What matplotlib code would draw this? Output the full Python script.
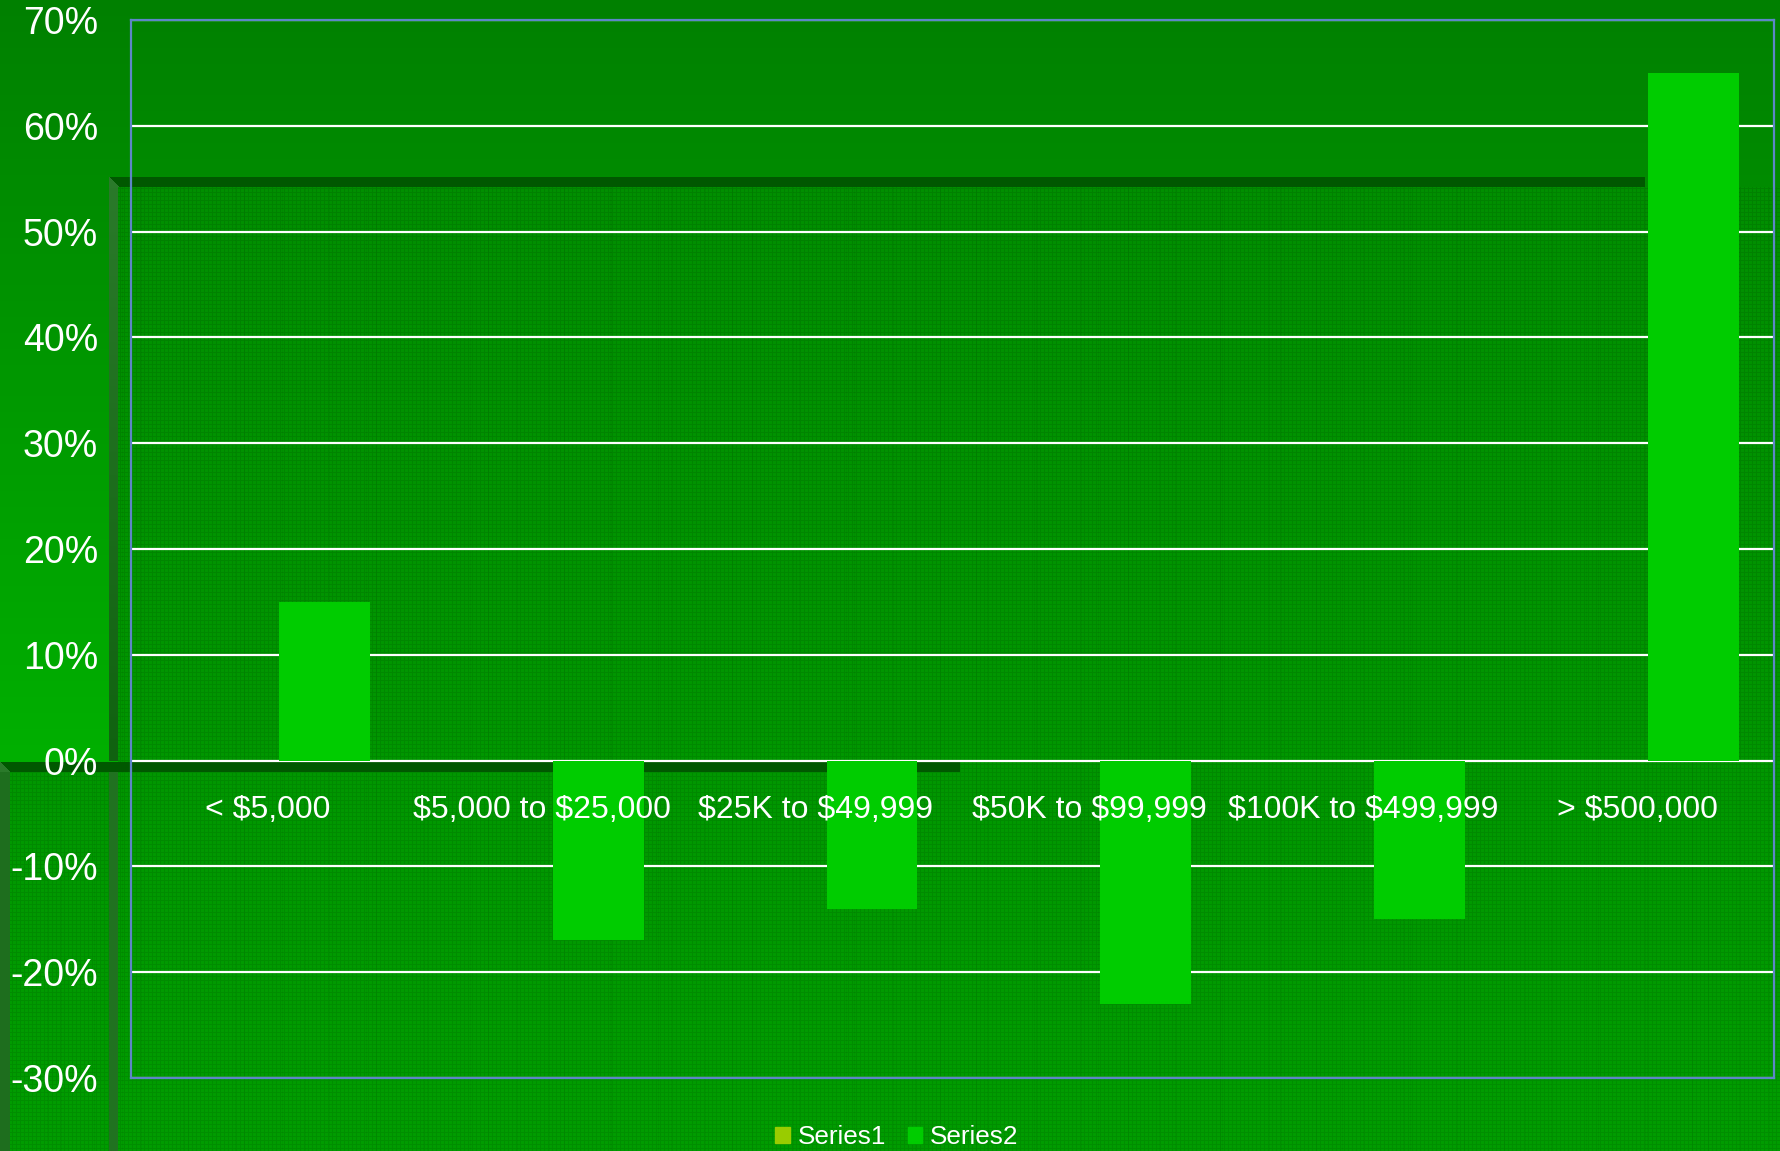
import numpy as np
import matplotlib
matplotlib.use('Agg')
import matplotlib.pyplot as plt
from matplotlib.patches import Patch

plt.rcParams['font.family'] = ['Liberation Sans', 'DejaVu Sans']
plt.rcParams['text.parse_math'] = False

# ---- data -------------------------------------------------------------
categories = ['< $5,000', '$5,000 to $25,000', '$25K to $49,999',
              '$50K to $99,999', '$100K to $499,999', '> $500,000']
series1 = [0, 0, 0, 0, 0, 0]
series2 = [15, -17, -14, -23, -15, 65]
series_names = ['Series1', 'Series2']
y_ticks = list(range(-30, 71, 10))

# ---- style ------------------------------------------------------------
C_S1 = '#99cc00'
C_S2 = '#00cc00'
C_BORDER = '#5d86c8'

W, H = 1781, 1151
DPI = 100
fig = plt.figure(figsize=(W / DPI, H / DPI), dpi=DPI)

# ---- slide background (pixel image) ----------------------------------
yy = np.arange(H)[:, None].astype(float)
xx = np.arange(W)[None, :].astype(float)
bg = np.zeros((H, W, 3), dtype=float)

# vertical gradient of the slide
g = 0x80 + 0x30 * np.clip(yy / 760.0, 0, 1.3)
bg[..., 1] = np.broadcast_to(g, (H, W))

# woven texture used on the lower panels
grid = ((xx.astype(int) % 4 == 0) | (yy.astype(int) % 4 == 0))
stripe = ((xx.astype(int) % 47 == 0) | (xx.astype(int) % 61 == 0))
tex = np.where(grid, -11.0, 3.0) - np.where(stripe, 6.0, 0.0)

panel_g = 0x8c + 0x0e * (yy - 187) / (H - 187)

# main textured panel
mA = (xx >= 118) & (yy >= 187)
valA = np.broadcast_to(panel_g + tex, (H, W))
bg[..., 1] = np.where(mA, valA, bg[..., 1])

# lower-left textured panel
mB = (xx >= 10) & (xx < 109) & (yy >= 771)
bg[..., 1] = np.where(mB, valA, bg[..., 1])


def paint(mask, rgb):
    for k in range(3):
        bg[..., k] = np.where(mask, rgb[k], bg[..., k])


# vertical edge strips
t = np.clip((yy - 187) / (761 - 187), 0, 1)
strip_upper = (xx >= 109) & (xx < 118) & (yy >= 187) & (yy < 761)
for k, (a, b) in enumerate([(0x2a, 0x10), (0x7a, 0x62), (0x2a, 0x10)]):
    bg[..., k] = np.where(strip_upper, np.broadcast_to(a + (b - a) * t, (H, W)), bg[..., k])
paint((xx >= 109) & (xx < 118) & (yy >= 771), (0x20, 0x72, 0x20))
paint((xx >= 0) & (xx < 10) & (yy >= 771), (0x1e, 0x6e, 0x1e))

# dark shelf bands with bevelled left ends
band_top = (yy >= 177) & (yy < 187) & (xx >= 109) & (xx < 1645)
paint(band_top & ((xx - 109) > (yy - 177)), (0x00, 0x58, 0x00))
paint(band_top & ((xx - 109) <= (yy - 177)), (0x2a, 0x7a, 0x2a))
band_low = (yy >= 762) & (yy < 772) & (xx >= 0) & (xx < 960)
paint(band_low & ((xx - 0) > (yy - 762)), (0x00, 0x58, 0x00))
paint(band_low & ((xx - 0) <= (yy - 762)), (0x2a, 0x7a, 0x2a))

bg = np.clip(bg, 0, 255).astype(np.uint8)
fig.figimage(bg, 0, 0, origin='upper', zorder=-1)

# ---- chart ------------------------------------------------------------
left, right, top, bottom = 131, 1774, 20, 1078
ax = fig.add_axes([left / W, 1 - bottom / H, (right - left) / W, (bottom - top) / H])
ax.patch.set_visible(False)

x = np.arange(len(categories))
bar_w = 0.332
shift = 0.04
ax.bar(x + shift - bar_w, series1, width=bar_w, align='edge', color=C_S1,
       zorder=2, label=series_names[0])
ax.bar(x + shift, series2, width=bar_w, align='edge', color=C_S2,
       zorder=2, label=series_names[1])

ax.set_xlim(-0.5, len(categories) - 0.5)
ax.set_ylim(y_ticks[0], y_ticks[-1])
ax.set_yticks(y_ticks)
ax.set_yticklabels([f'{v}%' for v in y_ticks])
ax.set_xticks([])
ax.tick_params(axis='y', length=0, pad=23.8, labelsize=27, labelcolor='white')

ax.set_axisbelow(True)
ax.yaxis.grid(True, color='white', linewidth=1.6)

for sp in ax.spines.values():
    sp.set_color(C_BORDER)
    sp.set_linewidth(1.6)
    sp.set_zorder(3)

# category labels sit just under the zero line
for i, name in enumerate(categories):
    ax.annotate(name, xy=(i, 0), xytext=(0, -49), textcoords='offset pixels',
                ha='center', va='center', color='white', fontsize=23,
                annotation_clip=False, zorder=4)

handles = [Patch(color=C_S1, label=series_names[0]),
           Patch(color=C_S2, label=series_names[1])]
fig.legend(handles=handles, loc='center', bbox_to_anchor=(897 / W, 1 - 1137 / H),
           ncol=2, frameon=False, fontsize=18.8, labelcolor='white',
           handlelength=0.55, handleheight=0.55, handletextpad=0.3,
           columnspacing=0.85, borderpad=0.0)

fig.savefig('out.png', dpi=DPI)
